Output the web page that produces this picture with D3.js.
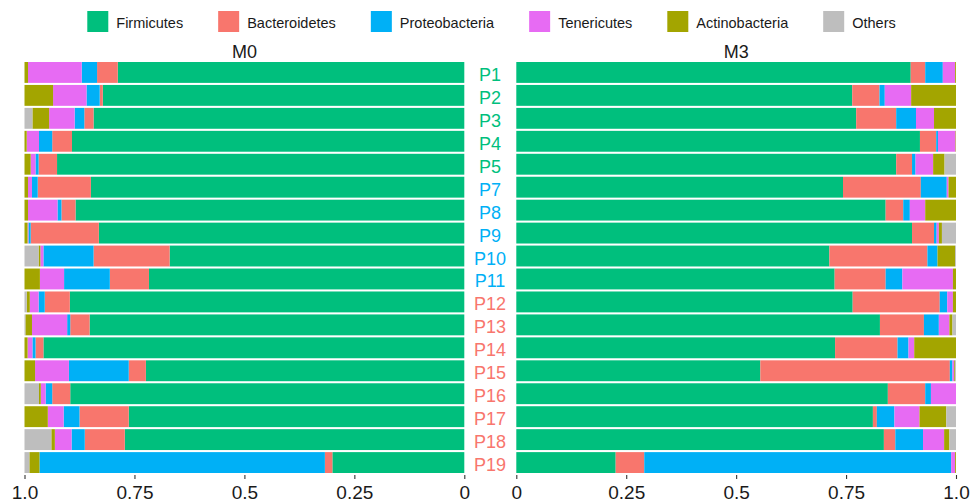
<!DOCTYPE html>
<html>
<head>
<meta charset="utf-8">
<script src="https://cdn.jsdelivr.net/npm/d3@7"></script>
<style>
	body { margin: 0; background: #fff; }
	svg { display: block; font-family: 'Liberation Sans', Arial, sans-serif; }
</style>
</head>
<body>
<svg id="canvas" width="974" height="504"></svg>
<script>
'use strict';

// samples, top to bottom
const samples = ['P1','P2','P3','P4','P5','P7','P8','P9','P10','P11','P12','P13','P14','P15','P16','P17','P18','P19'];
// group of each sample, used for the label colour
const sampleGroup = [0,0,0,0,0,1,1,1,1,1,2,2,2,2,2,2,2,2];
const groupColors = ['#00BF7D', '#00B0F6', '#F8766D'];

const taxa = ['Firmicutes','Bacteroidetes','Proteobacteria','Tenericutes','Actinobacteria','Others'];
const taxaColors = ['#00BF7D','#F8766D','#00B0F6','#E76BF3','#A3A500','#BEBEBE'];

const panelTitles = ['M0', 'M3'];
const tickValues = [0, 0.25, 0.5, 0.75, 1];
const tickLabels = ['0', '0.25', '0.5', '0.75', '1.0'];

// M0 relative abundance
const m0Firmicutes     = [.788,.822,.843,.892,.926,.849,.884,.831,.670,.717,.897,.852,.957,.724,.896,.763,.772,.300];
const m0Bacteroidetes  = [.047,.007,.021,.045,.042,.121,.032,.155,.173,.089,.057,.044,.018,.039,.041,.112,.091,.017];
const m0Proteobacteria = [.035,.030,.022,.030,.007,.013,.009,.005,.114,.104,.014,.007,.007,.136,.015,.036,.030,.649];
const m0Tenericutes    = [.122,.076,.058,.028,.011,.009,.067,.002,.007,.055,.020,.080,.011,.077,.011,.036,.038,.000];
const m0Actinobacteria = [.008,.065,.038,.005,.014,.008,.008,.007,.004,.035,.007,.015,.007,.024,.004,.053,.008,.023];
const m0Others         = [.000,.000,.018,.000,.000,.000,.000,.000,.032,.000,.005,.002,.000,.000,.033,.000,.061,.011];

// M3 relative abundance
const m3Firmicutes     = [.897,.764,.773,.918,.864,.743,.840,.900,.712,.724,.765,.827,.725,.555,.845,.811,.836,.226];
const m3Bacteroidetes  = [.033,.062,.091,.037,.036,.177,.040,.050,.223,.116,.198,.100,.142,.431,.085,.009,.026,.065];
const m3Proteobacteria = [.040,.012,.045,.004,.008,.059,.015,.006,.023,.038,.017,.034,.025,.006,.013,.040,.063,.698];
const m3Tenericutes    = [.028,.060,.041,.040,.040,.004,.035,.005,.000,.115,.013,.024,.013,.004,.057,.057,.048,.009];
const m3Actinobacteria = [.002,.102,.050,.001,.026,.017,.070,.007,.040,.007,.007,.007,.095,.002,.000,.061,.012,.002];
const m3Others         = [.000,.000,.000,.000,.026,.000,.000,.032,.002,.000,.000,.008,.000,.002,.000,.022,.015,.000];

const yTop = 62, yBottom = 473;
const svg = d3.select('#canvas');

function makeRows(cols){
	return samples.map((s, i) => {
		let r = {sample: s};
		taxa.forEach((t, j) => { r[t] = cols[j][i]; });
		return r;
	});
}

const panels = [
	{title: panelTitles[0], rows: makeRows([m0Firmicutes, m0Bacteroidetes, m0Proteobacteria, m0Tenericutes, m0Actinobacteria, m0Others]), range: [464.3, 24.5]},
	{title: panelTitles[1], rows: makeRows([m3Firmicutes, m3Bacteroidetes, m3Proteobacteria, m3Tenericutes, m3Actinobacteria, m3Others]), range: [516.3, 956]}
];

const color = d3.scaleOrdinal().domain(taxa).range(taxaColors);

const y = d3.scaleBand()
	.domain(samples)
	.range([yTop, yBottom])
	.paddingInner(0.09)
	.paddingOuter(0);

const stack = d3.stack().keys(taxa);

panels.forEach((p, pi) => {
	const x = d3.scaleLinear().domain([0, 1]).range(p.range);
	const g = svg.append('g').attr('class', 'panel' + pi);

	g.selectAll('g.layer')
		.data(stack(p.rows))
		.join('g')
			.attr('class', 'layer')
			.attr('fill', d => color(d.key))
		.selectAll('rect')
			.data(d => d)
			.join('rect')
				.attr('x', d => Math.min(x(d[0]), x(d[1])))
				.attr('y', d => y(d.data.sample))
				.attr('width', d => Math.abs(x(d[1]) - x(d[0])))
				.attr('height', y.bandwidth());

	const axis = d3.axisBottom(x)
		.tickValues(tickValues)
		.tickFormat((d, i) => tickLabels[i])
		.tickSizeInner(4)
		.tickSizeOuter(0)
		.tickPadding(7);

	const ax = g.append('g')
		.attr('transform', 'translate(0,' + (yBottom + 2) + ')')
		.call(axis);
	ax.select('.domain').remove();
	ax.selectAll('.tick line').attr('stroke', '#333').attr('stroke-width', 1.1);
	ax.selectAll('.tick text')
		.attr('fill', '#1a1a1a')
		.style('font-size', '19px')
		.style('font-family', "'Liberation Sans', Arial, sans-serif");

	g.append('text')
		.attr('x', (p.range[0] + p.range[1]) / 2)
		.attr('y', 58)
		.attr('text-anchor', 'middle')
		.attr('fill', '#1a1a1a')
		.style('font-size', '18px')
		.text(p.title);
});

// sample labels between the panels
svg.append('g')
	.selectAll('text')
	.data(samples)
	.join('text')
		.attr('x', 490)
		.attr('y', d => y(d) + y.bandwidth() / 2 + 8.5)
		.attr('text-anchor', 'middle')
		.attr('fill', (d, i) => groupColors[sampleGroup[i]])
		.style('font-size', '18px')
		.text(d => d);

// legend
const legend = svg.append('g');
let lx = 0;
taxa.forEach((t, i) => {
	const item = legend.append('g').attr('transform', 'translate(' + lx + ',0)');
	item.append('rect')
		.attr('x', 0).attr('y', 11)
		.attr('width', 21).attr('height', 21)
		.attr('fill', color(t));
	const txt = item.append('text')
		.attr('x', 29).attr('y', 28)
		.attr('fill', '#1a1a1a')
		.style('font-size', '14.5px')
		.text(t);
	lx += 29 + txt.node().getComputedTextLength() + 35;
});
const lw = lx - 35;
legend.attr('transform', 'translate(' + (491.5 - lw / 2) + ',0)');
</script>
</body>
</html>
